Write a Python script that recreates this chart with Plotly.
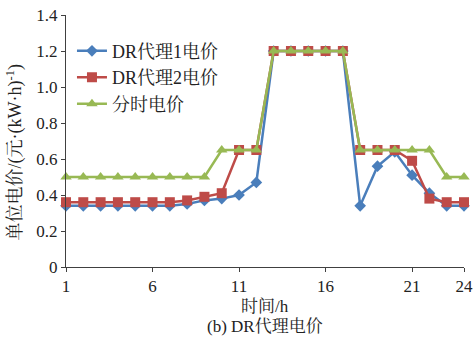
import plotly.graph_objects as go

hours = list(range(1, 25))
dr1 = [0.34, 0.34, 0.34, 0.34, 0.34, 0.34, 0.34, 0.35, 0.37, 0.38, 0.40, 0.47,
       1.20, 1.20, 1.20, 1.20, 1.20, 0.34, 0.56, 0.64, 0.51, 0.41, 0.34, 0.34]
dr2 = [0.36, 0.36, 0.36, 0.36, 0.36, 0.36, 0.36, 0.37, 0.39, 0.41, 0.65, 0.65,
       1.20, 1.20, 1.20, 1.20, 1.20, 0.65, 0.65, 0.65, 0.59, 0.38, 0.36, 0.36]
tou = [0.50, 0.50, 0.50, 0.50, 0.50, 0.50, 0.50, 0.50, 0.50, 0.65, 0.65, 0.65,
       1.20, 1.20, 1.20, 1.20, 1.20, 0.65, 0.65, 0.65, 0.65, 0.65, 0.50, 0.50]
names = ["DR代理1电价", "DR代理2电价", "分时电价"]
xticks = [1, 6, 11, 16, 21, 24]
yticks = [0, 0.2, 0.4, 0.6, 0.8, 1.0, 1.2, 1.4]
ytext = ["0", "0.2", "0.4", "0.6", "0.8", "1.0", "1.2", "1.4"]

FONT = "Times New Roman, Liberation Serif, Noto Serif CJK SC, Noto Sans CJK SC, serif"
TXT = "#222"

fig = go.Figure()
styles = [
    (dr1, "#4A7EBB", "diamond", 9),
    (dr2, "#BE4B48", "square", 10),
    (tou, "#98B954", "triangle-up", 10),
]
for (vals, col, sym, sz), nm in zip(styles, names):
    fig.add_trace(go.Scatter(
        x=hours, y=vals, name=nm, mode="lines+markers",
        line=dict(color=col, width=2.5),
        marker=dict(symbol=sym, size=sz, color=col),
        cliponaxis=False,
    ))

axis_common = dict(
    showline=True, linecolor="#404040", linewidth=1,
    ticks="outside", tickcolor="#404040", ticklen=4,
    showgrid=False, zeroline=False, automargin=False,
    tickfont=dict(family=FONT, size=17, color=TXT),
)
fig.update_xaxes(range=[1, 24], tickvals=xticks, **axis_common)
fig.update_yaxes(range=[0, 1.4], tickvals=yticks, ticktext=ytext, **axis_common)

fig.add_annotation(text="单位电价/(元·(kW·h)<sup>-1</sup>)", xref="paper", yref="paper",
                   x=-0.128, y=0.455, xanchor="center", yanchor="middle",
                   textangle=-90, showarrow=False,
                   font=dict(family=FONT, size=18, color=TXT))
fig.add_annotation(text="时间/h", xref="paper", yref="paper",
                   x=0.5, y=-0.155, yanchor="middle", showarrow=False,
                   font=dict(family=FONT, size=17, color=TXT))
fig.add_annotation(text="(b) DR代理电价", xref="paper", yref="paper",
                   x=0.5, y=-0.238, yanchor="middle", showarrow=False,
                   font=dict(family=FONT, size=17, color=TXT))

fig.update_layout(
    width=474, height=338,
    margin=dict(l=66, r=10, t=15, b=71),
    plot_bgcolor="white", paper_bgcolor="white",
    legend=dict(x=0.015, y=0.93, xanchor="left", yanchor="top",
                font=dict(family=FONT, size=18, color=TXT),
                bgcolor="rgba(0,0,0,0)", tracegroupgap=0, itemwidth=30),
    showlegend=True,
)
fig.write_html("out.html")
